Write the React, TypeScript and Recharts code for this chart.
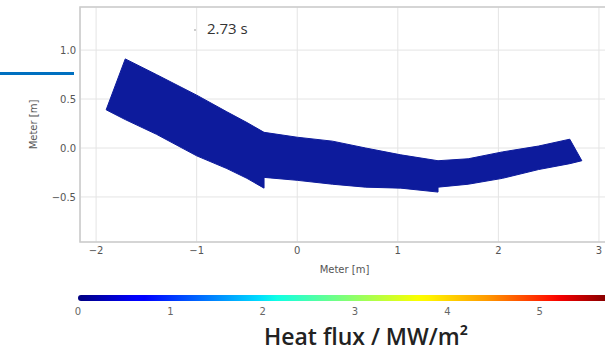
import React from "react";
import {
  ComposedChart,
  Area,
  XAxis,
  YAxis,
  CartesianGrid,
  ReferenceArea,
  BarChart,
  Bar,
} from "recharts";

// Band outline (x in metres, lower / upper edge in metres)
const bandX = [-1.9, -1.71, -1.4, -1.0, -0.7, -0.5, -0.33, -0.33, 0.0, 0.35, 0.68, 1.03, 1.4, 1.4, 1.7, 2.04, 2.4, 2.71, 2.83];
const bandLow = [0.39, 0.29, 0.14, -0.08, -0.21, -0.31, -0.41, -0.3, -0.33, -0.37, -0.4, -0.41, -0.45, -0.4, -0.37, -0.31, -0.22, -0.16, -0.13];
const bandHigh = [0.39, 0.91, 0.75, 0.54, 0.37, 0.26, 0.16, 0.16, 0.11, 0.07, 0.0, -0.07, -0.13, -0.13, -0.11, -0.04, 0.02, 0.09, -0.13];

const xTicks = [-2, -1, 0, 1, 2, 3];
const yTicks = [-0.5, 0, 0.5, 1.0];
const xDomain = [-2.16, 3.1];
const yDomain = [-0.96, 1.44];

const colorbarTicks = [0, 1, 2, 3, 4, 5];
const colorbarMax = 5.75;
const timeLabel = "2.73 s";

const bandRows = bandX.map((x, i) => ({ x, range: [bandLow[i], bandHigh[i]] }));
const colorbarRows = [{ name: "hf", v: colorbarMax }];

const minus = (s: string) => s.replace("-", "\u2212");

const jetStops: [number, string][] = [
  [0, "#000080"],
  [0.11, "#0000ff"],
  [0.125, "#0000ff"],
  [0.34, "#00dbff"],
  [0.375, "#10ffe4"],
  [0.5, "#7dff7a"],
  [0.64, "#faff00"],
  [0.66, "#fff400"],
  [0.77, "#ff9a00"],
  [0.89, "#ff1200"],
  [0.91, "#f20000"],
  [1, "#800000"],
];

const tickStyle = { fontFamily: "DejaVu Sans", fontSize: 10, fill: "#555555" };

export default function App() {
  return (
    <div
      style={{
        position: "absolute",
        left: 0,
        top: 0,
        width: 605,
        height: 353,
        overflow: "hidden",
        background: "#ffffff",
      }}
    >
      <div style={{ position: "absolute", left: 0, top: 0 }}>
        <ComposedChart
          width={640}
          height={280}
          data={bandRows}
          margin={{ top: 7, right: 31, bottom: 0, left: 0 }}
        >
          <CartesianGrid stroke="#e4e4e4" strokeWidth={1} />
          <XAxis
            type="number"
            dataKey="x"
            domain={xDomain}
            ticks={xTicks}
            allowDataOverflow
            axisLine={false}
            tickLine={false}
            tickSize={0}
            tickMargin={5}
            height={38}
            tick={tickStyle}
            tickFormatter={(v: number) => minus(String(v))}
            label={{
              value: "Meter [m]",
              position: "insideBottom",
              offset: 7,
              style: { fontFamily: "DejaVu Sans", fontSize: 10, fill: "#555555" },
            }}
          />
          <YAxis
            type="number"
            domain={yDomain}
            ticks={yTicks}
            allowDataOverflow
            axisLine={false}
            tickLine={false}
            tickSize={0}
            tickMargin={4}
            width={80}
            tick={tickStyle}
            tickFormatter={(v: number) => minus(v.toFixed(1))}
            label={{
              value: "Meter [m]",
              angle: -90,
              position: "insideLeft",
              offset: 33,
              style: { textAnchor: "middle", fontFamily: "DejaVu Sans", fontSize: 10, fill: "#555555" },
            }}
          />
          <ReferenceArea
            x1={xDomain[0]}
            x2={xDomain[1]}
            y1={yDomain[0]}
            y2={yDomain[1]}
            fill="none"
            stroke="#cccccc"
            strokeWidth={1.6}
          />
          <Area
            type="linear"
            dataKey="range"
            stroke="#0d1b9c"
            strokeWidth={1}
            fill="#0d1b9c"
            fillOpacity={1}
            isAnimationActive={false}
            dot={false}
            activeDot={false}
          />
        </ComposedChart>
      </div>

      <div
        style={{
          position: "absolute",
          left: 194,
          top: 29,
          width: 2,
          height: 2,
          borderRadius: 1,
          background: "#bbbbbb",
        }}
      />
      <div
        style={{
          position: "absolute",
          left: 207,
          top: 19,
          fontFamily: "Open Sans",
          fontSize: 15,
          color: "#333333",
          lineHeight: "18px",
          whiteSpace: "nowrap",
        }}
      >
        {timeLabel}
      </div>

      <div
        style={{
          position: "absolute",
          left: 0,
          top: 72,
          width: 74,
          height: 3,
          background: "#0070c0",
        }}
      />

      <div style={{ position: "absolute", left: 0, top: 286 }}>
        <BarChart
          width={660}
          height={40}
          layout="vertical"
          data={colorbarRows}
          margin={{ top: 5, right: 28, bottom: 0, left: 78 }}
        >
          <defs>
            <linearGradient id="jet" x1="0" y1="0" x2="1" y2="0">
              {jetStops.map(([o, c]) => (
                <stop key={o} offset={o} stopColor={c} />
              ))}
            </linearGradient>
          </defs>
          <XAxis
            type="number"
            domain={[0, 6]}
            ticks={colorbarTicks}
            axisLine={false}
            tickLine={false}
            tickSize={0}
            tickMargin={4}
            height={22}
            tick={{ fontFamily: "DejaVu Sans", fontSize: 10, fill: "#666666" }}
          />
          <YAxis type="category" dataKey="name" hide width={0} />
          <Bar
            dataKey="v"
            fill="url(#jet)"
            barSize={6}
            radius={3}
            isAnimationActive={false}
          />
        </BarChart>
      </div>

      <div
        style={{
          position: "absolute",
          left: 216,
          top: 322,
          width: 300,
          textAlign: "center",
          fontFamily: "Open Sans",
          fontWeight: 600,
          fontSize: 23,
          lineHeight: "28px",
          color: "#222222",
          whiteSpace: "nowrap",
        }}
      >
        Heat flux / MW/m²
      </div>
    </div>
  );
}
